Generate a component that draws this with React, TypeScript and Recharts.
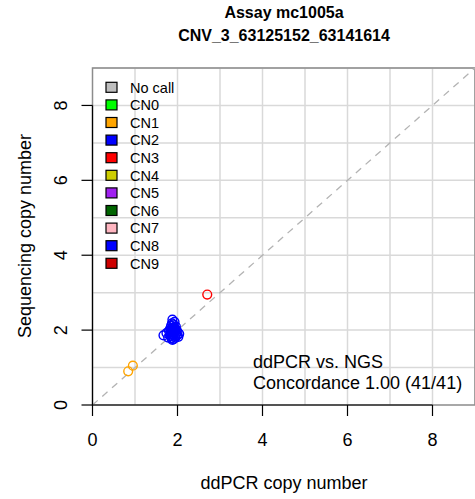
import React from "react";
import {
  CartesianGrid,
  ReferenceArea,
  ReferenceLine,
  Scatter,
  ScatterChart,
  XAxis,
  YAxis,
} from "recharts";

const FONT = '"Liberation Sans", Arial, Helvetica, sans-serif';

// copy-number classes shown in the key
const categories = ["No call", "CN0", "CN1", "CN2", "CN3", "CN4", "CN5", "CN6", "CN7", "CN8", "CN9"];
const categoryColors = [
  "#bebebe", "#00ff00", "#ffa500", "#0000ff", "#ff0000",
  "#cdcd00", "#a020f0", "#006400", "#ffb6c1", "#0000ff", "#cd0000",
];

// ddPCR (x) vs. sequencing (y) copy number per sample
const cn1Points = [
  { x: 0.84, y: 0.9 },
  { x: 0.95, y: 1.05 },
];
const cn2Points = [
  { x: 1.67, y: 1.86 }, { x: 1.74, y: 1.92 }, { x: 1.78, y: 1.8 }, { x: 1.8, y: 1.98 },
  { x: 1.82, y: 1.88 }, { x: 1.83, y: 2.05 }, { x: 1.84, y: 1.84 }, { x: 1.85, y: 1.95 },
  { x: 1.85, y: 2.12 }, { x: 1.86, y: 1.78 }, { x: 1.86, y: 2.0 }, { x: 1.87, y: 1.9 },
  { x: 1.87, y: 2.18 }, { x: 1.88, y: 2.28 }, { x: 1.88, y: 2.06 }, { x: 1.89, y: 1.96 },
  { x: 1.89, y: 1.83 }, { x: 1.9, y: 2.02 }, { x: 1.9, y: 2.15 }, { x: 1.91, y: 1.88 },
  { x: 1.91, y: 1.76 }, { x: 1.92, y: 1.99 }, { x: 1.92, y: 2.08 }, { x: 1.93, y: 1.93 },
  { x: 1.93, y: 2.22 }, { x: 1.94, y: 1.85 }, { x: 1.94, y: 2.04 }, { x: 1.95, y: 1.97 },
  { x: 1.95, y: 1.8 }, { x: 1.96, y: 2.1 }, { x: 1.97, y: 1.91 }, { x: 1.98, y: 2.0 },
  { x: 1.99, y: 1.86 }, { x: 2.0, y: 1.95 }, { x: 2.02, y: 1.82 }, { x: 2.04, y: 1.9 },
  { x: 1.88, y: 1.74 }, { x: 1.84, y: 1.98 },
];
const cn3Points = [{ x: 2.7, y: 2.95 }];

const axisTicks = [0, 2, 4, 6, 8];
const gridValues = [1, 2, 3, 4, 5, 6, 7, 8, 9];

const titleLines = ["Assay mc1005a", "CNV_3_63125152_63141614"];
const noteLines = ["ddPCR vs. NGS", "Concordance 1.00 (41/41)"];

const ring = (color: string) => (props: any) => (
  <circle cx={props.cx} cy={props.cy} r={4.4} fill="none" stroke={color} strokeWidth={1.4} />
);

const XTick = (props: any) => (
  <text x={props.x} y={446} textAnchor="middle" fontSize={18} fontFamily={FONT} fill="#000">
    {props.payload.value}
  </text>
);

const YTick = (props: any) => (
  <text
    x={67}
    y={props.y}
    transform={`rotate(-90, 67, ${props.y})`}
    textAnchor="middle"
    fontSize={18}
    fontFamily={FONT}
    fill="#000"
  >
    {props.payload.value}
  </text>
);

export default function App() {
  return (
    <div style={{ position: "absolute", left: 0, top: 0, width: 475, height: 499, overflow: "hidden", background: "#fff" }}>
      <ScatterChart width={475} height={499} margin={{ top: 68, right: 0, bottom: 0, left: 0 }}>
        <CartesianGrid
          stroke="#d9d9d9"
          strokeWidth={1.5}
          horizontalValues={gridValues}
          verticalValues={gridValues}
        />
        <ReferenceArea x1={0} x2={9} y1={0} y2={9} fill="none" stroke="#8c8c8c" strokeWidth={1.5} />
        <XAxis
          type="number"
          dataKey="x"
          domain={[0, 9]}
          ticks={axisTicks}
          height={94}
          axisLine={false}
          tickLine={{ stroke: "#000", strokeWidth: 1.2 }}
          tickSize={11}
          tick={<XTick />}
          allowDataOverflow
        />
        <YAxis
          type="number"
          dataKey="y"
          domain={[0, 9]}
          ticks={axisTicks}
          width={92.5}
          axisLine={false}
          tickLine={{ stroke: "#000", strokeWidth: 1.2 }}
          tickSize={11}
          tick={<YTick />}
          allowDataOverflow
        />
        <ReferenceLine
          segment={[{ x: 0, y: 0 }, { x: 9, y: 9 }]}
          stroke="#b3b3b3"
          strokeWidth={1.3}
          strokeDasharray="7 6"
        />
        <ReferenceLine segment={[{ x: 0, y: 0 }, { x: 8, y: 0 }]} stroke="#000" strokeWidth={1.2} />
        <ReferenceLine segment={[{ x: 0, y: 0 }, { x: 0, y: 8 }]} stroke="#000" strokeWidth={1.2} />
        <Scatter name="CN1" data={cn1Points} shape={ring(categoryColors[2])} isAnimationActive={false} />
        <Scatter name="CN2" data={cn2Points} shape={ring(categoryColors[3])} isAnimationActive={false} />
        <Scatter name="CN3" data={cn3Points} shape={ring(categoryColors[4])} isAnimationActive={false} />
      </ScatterChart>

      <svg width={475} height={499} style={{ position: "absolute", left: 0, top: 0, pointerEvents: "none" }} fontFamily={FONT}>
        {titleLines.map((t, i) => (
          <text key={t} x={284} y={18.3 + i * 22.8} textAnchor="middle" fontSize={16} fontWeight="bold">
            {t}
          </text>
        ))}
        {categories.map((c, i) => {
          const cy = 87.3 + i * 17.6;
          return (
            <g key={c}>
              <rect x={106} y={cy - 5} width={11} height={10} fill={categoryColors[i]} stroke="#000" strokeWidth={1.2} />
              <text x={130} y={cy + 5.3} fontSize={14.5}>
                {c}
              </text>
            </g>
          );
        })}
        {noteLines.map((t, i) => (
          <text key={t} x={253} y={368 + i * 21} fontSize={18}>
            {t}
          </text>
        ))}
        <text x={284} y={489} textAnchor="middle" fontSize={18}>
          ddPCR copy number
        </text>
        <text x={31} y={236} transform="rotate(-90, 31, 236)" textAnchor="middle" fontSize={18}>
          Sequencing copy number
        </text>
      </svg>
    </div>
  );
}
